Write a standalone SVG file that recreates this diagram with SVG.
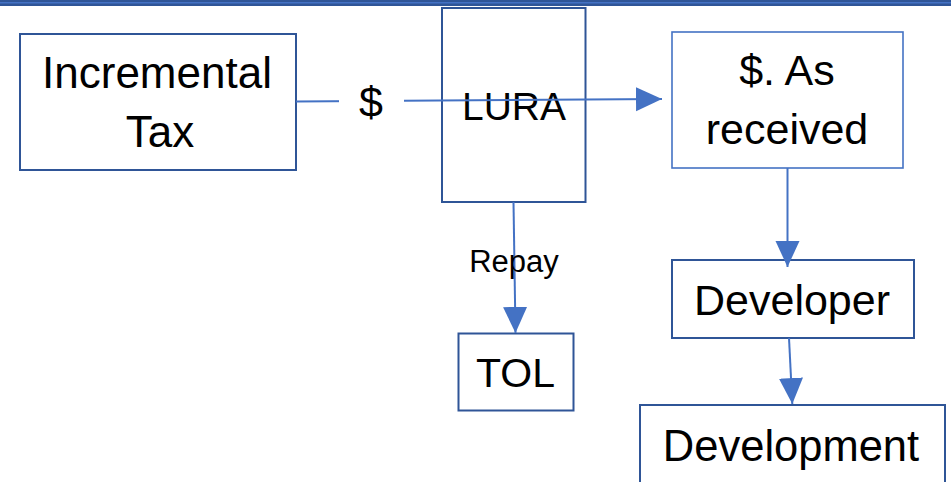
<svg xmlns="http://www.w3.org/2000/svg" width="951" height="482" viewBox="0 0 951 482">
<defs>
<style>
.box{fill:#fff;stroke:#2F5597;stroke-width:2}
.box2{fill:#fff;stroke:#4472C4;stroke-width:1.6}
.t{font-family:"Liberation Sans",Arial,sans-serif;font-size:43px;fill:#000;text-anchor:middle}
.lbl{font-family:"Liberation Sans",Arial,sans-serif;font-size:31px;fill:#000;text-anchor:middle}
.c{fill:none;stroke:#4472C4;stroke-width:2;marker-end:url(#ah)}
</style>
<marker id="ah" markerUnits="userSpaceOnUse" markerWidth="27" markerHeight="26" refX="26" refY="12" orient="auto">
<path d="M0,0 L26,12 L0,24 z" fill="#4472C4"/>
</marker>
</defs>
<rect x="0" y="0" width="951" height="6" fill="#2F5597"/>
<rect x="0" y="2" width="951" height="1.5" fill="#4472C4"/>
<g id="incremental">
<rect class="box" x="20" y="34" width="276" height="136"/>
<text class="t" x="157" y="88" style="font-size:44px">Incremental</text>
<text class="t" x="160" y="147" style="font-size:44px">Tax</text>
</g>
<g id="lura">
<rect class="box" x="442" y="8" width="143.5" height="194"/>
<text class="t" x="514" y="120" style="font-size:39px">LURA</text>
</g>
<g id="received">
<rect class="box2" x="672" y="32" width="231" height="136"/>
<text class="t" x="787" y="85">$. As</text>
<text class="t" x="787" y="144">received</text>
</g>
<g id="tol">
<rect class="box" x="458.5" y="333.5" width="115" height="77"/>
<text class="t" x="515.5" y="387" style="font-size:41px">TOL</text>
</g>
<g id="developer">
<rect class="box" x="672" y="260" width="242" height="78"/>
<text class="t" x="792" y="315">Developer</text>
</g>
<g id="development">
<rect class="box" x="640" y="405" width="305" height="90"/>
<text class="t" x="791" y="461" style="font-size:43.5px">Development</text>
</g>
<g id="connectors">
<path class="c" d="M296,101.5 L662,99"/>
<rect x="339" y="80" width="65" height="44" fill="#fff"/>
<text class="t" x="371" y="117">$</text>
<path class="c" d="M513.5,202 L515.5,333"/>
<text class="lbl" x="514" y="272">Repay</text>
<path class="c" d="M787.5,168 L787.5,267"/>
<path class="c" d="M789,338 L792.3,404"/>
</g>
</svg>
